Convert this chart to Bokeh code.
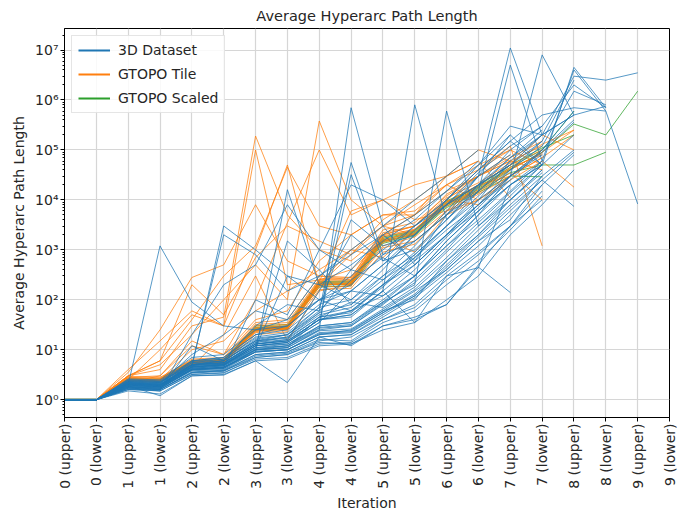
from bokeh.plotting import figure
from bokeh.models import FixedTicker, Range1d, Legend, LegendItem
from bokeh.embed import file_html
from bokeh.resources import INLINE

tick_labels = ["0 (upper)", "0 (lower)", "1 (upper)", "1 (lower)", "2 (upper)", "2 (lower)",
               "3 (upper)", "3 (lower)", "4 (upper)", "4 (lower)", "5 (upper)", "5 (lower)",
               "6 (upper)", "6 (lower)", "7 (upper)", "7 (lower)", "8 (upper)", "8 (lower)",
               "9 (upper)", "9 (lower)"]

dataset_3d = [
    [1, 1, 2, 1.9, 4, 4.5, 9, 10, 20, 25, 60, 150, 400, 1500, 4000, 3e4],
    [1, 1, 1.8, 1.6, 3.5, 3.8, 7, 8, 15, 18, 40, 80, 300, 900, 3e3, 2e4, 8e4],
    [1, 1, 2.2, 2.0, 4.5, 5, 12, 14, 40, 60, 120, 300, 1200, 5e3, 2e4, 6e4],
    [1, 1, 1.6, 1.5, 3.2, 3.5, 6.5, 7, 13, 14, 35, 60, 200, 600, 2500, 1.2e4],
    [1, 1, 2.5, 2.3, 5, 6, 15, 18, 50, 70, 200, 600, 2e3, 8e3, 3e4, 1e5, 4e5],
    [1, 1, 1.9, 1.2, 3, 3.2, 6, 2.2, 18, 12, 30, 45, 80, 450, 140],
    [1, 1, 2, 1200, 90, 30, 25, 40, 100, 300, 1000, 3000, 8000, 2e4, 5e4],
    [1, 1, 2.3, 2.1, 6, 7, 20, 25, 80, 150, 500, 1500, 5e3, 2e4, 1e5, 3e5, 2e6, 7e5],
    [1, 1, 1.7, 1.7, 4, 4.2, 10, 11, 25, 7e5, 3e3, 500, 2e3, 6e3, 2e4, 5e4],
    [1, 1, 2, 2, 4.2, 4.8, 11, 12, 30, 35, 90, 200, 6e5, 3e3, 1e4, 4e4],
    [1, 1, 2.1, 1.9, 5, 5.5, 13, 15, 40, 50, 150, 8e5, 4e3, 2e4, 5e4, 1.5e5],
    [1, 1, 1.8, 1.7, 3.8, 4, 9, 1.6e4, 200, 100, 300, 800, 3e3, 1e4, 3e4, 8e4],
    [1, 1, 2.4, 2.2, 5.5, 6, 16, 20, 60, 5.6e4, 800, 1500, 5e3, 1.5e4, 5e4, 2e5, 3e6, 2.5e6, 3.5e6],
    [1, 1, 2, 1.8, 4.5, 5, 12, 14, 35, 3.2e4, 600, 2500, 8e3, 3e4, 1.1e7, 2e5, 5e5, 7.5e5],
    [1, 1, 2.2, 2.1, 5, 5.5, 14, 16, 45, 60, 180, 700, 3e3, 1.5e4, 5e6, 6e4, 4e6, 6e5, 8.3e3],
    [1, 1, 1.9, 1.8, 4, 4.4, 10, 12, 25, 30, 80, 250, 1e3, 5e3, 3e4, 8e6, 5e5],
    [1, 1, 2, 1.9, 4.8, 5.2, 13, 15, 40, 45, 150, 500, 2e3, 8e3, 4e4, 1.5e5, 2.5e6],
    [1, 1, 1.7, 1.6, 3.6, 3.9, 8, 9, 18, 20, 50, 120, 400, 1500, 6e3, 2.5e4, 7.4e3],
    [1, 1, 2.1, 2, 5, 5.5, 14, 18, 55, 80, 300, 1200, 6e3, 3e4, 2e5, 5e4, 4.5e6, 7e5],
    [1, 1, 2.3, 2.2, 5.2, 6, 15, 20, 70, 100, 400, 2e3, 1e4, 5e4, 3e5, 2e5],
    [1, 1, 1.8, 1.7, 4, 4.5, 9, 10, 22, 24, 60, 100, 600, 2000, 1e4, 4e4],
    [1, 1, 2, 1.9, 4.4, 5, 11, 13, 28, 32, 90, 300, 1500, 6e3, 2.5e4, 1e5, 6e5],
    [1, 1, 1.6, 1.6, 3.4, 3.7, 7.5, 8.5, 16, 15, 40, 70, 250, 800, 3e3, 1.5e4],
    [1, 1, 2.5, 2.4, 6, 7, 20, 30, 100, 200, 800, 3e3, 1e4, 4e4, 1.5e5, 5e5, 7e5, 6e5],
    [1, 1, 2.2, 2, 5, 5.5, 13, 15, 40, 50, 150, 35, 300, 440, 2e4, 5e4],
    [1, 1, 1.9, 1.8, 4.2, 4.8, 10, 11, 45, 90, 70, 180, 700, 3e3, 1.2e4, 5e4, 2e5],
    [1, 1, 2, 1.9, 4.6, 5, 12, 13, 30, 35, 100, 300, 1200, 4e3, 1.5e4, 6e4],
    [1, 1, 2.1, 2, 5, 6, 15, 17, 45, 55, 200, 800, 3e3, 1.2e4, 4e4, 1.2e5, 1.5e6, 8e5],
    [1, 1, 1.8, 1.7, 3.9, 4.2, 9, 10, 20, 22, 55, 130, 500, 2e3, 8e3, 3e4, 1e5],
    [1, 1, 2.3, 2.2, 5.5, 6.5, 18, 22, 70, 4e3, 1200, 2e3, 8e3, 3.5e4, 1.2e5, 3e5],
    [1, 1, 2, 1.9, 4.5, 5, 11, 300, 100, 60, 200, 500, 2e3, 1e4, 6e4],
    [1, 1, 2.6, 2.5, 7, 8, 25, 30, 100, 150, 500, 2e3, 8e3, 2e4, 7e4, 2e5, 5e5],
    [1, 1, 1.7, 1.6, 3.5, 3.8, 8, 9, 18, 20, 45, 110, 350, 1200, 5e3, 2e4],
    [1, 1, 2.2, 2, 4.8, 5.2, 12, 14, 35, 150, 120, 400, 1800, 7e3, 3e4, 9e4, 3.6e5],
    [1, 1, 1.9, 1.8, 4.1, 4.5, 10, 11, 24, 26, 65, 160, 600, 2500, 1e4, 3.5e4],
    [1, 1, 2, 1.9, 4.6, 5.1, 12, 1.5e3, 400, 80, 250, 700, 2.5e3, 8e3, 2.5e4],
    [1, 1, 2.1, 2, 4.9, 5.4, 13, 16, 150, 2e3, 600, 1e3, 4e3, 1.5e4, 6e4, 2e5],
    [1, 1, 1.8, 1.8, 4, 4.3, 9.5, 10, 21, 23, 55, 120, 450, 1800, 7e3, 2.5e4, 9e4],
    [1, 1, 2.4, 2.3, 5.8, 6.5, 17, 20, 55, 400, 250, 900, 4e3, 1.8e4, 7e4, 2.5e5],
    [1, 1, 2, 1.9, 4.3, 4.7, 10.5, 12, 27, 30, 85, 220, 900, 3.5e3, 1.4e4, 5e4],
    [1, 1, 2, 1.9, 4.5, 3e3, 1e3, 300, 200, 500, 1500, 4e3, 1.5e4, 5e4, 2e5],
    [1, 1, 2.1, 2, 5, 2e3, 800, 150, 300, 1e3, 3e3, 1e4, 3e4, 1e5],
    [1, 1, 1.7, 1.5, 20, 200, 500, 8e3, 1e3, 400, 2e3, 5e3, 1.5e4, 6e4],
    [1, 1, 1.9, 1.7, 4, 4.4, 100, 50, 1e3, 2e4, 1e4, 3e3, 1e4, 4e4, 1.5e5, 5e4],
    [1, 1, 1.6, 1.5, 3.2, 3.4, 7, 8, 14, 13, 30, 40, 80, 500, 3e3, 1e4],
    [1, 1, 1.5, 1.3, 3, 3.1, 6, 6.5, 12, 13, 25, 35, 100, 300, 2e3, 8e3, 4e4],
    [1, 1, 2.2, 2.1, 8, 20, 60, 40, 300, 800, 2e3, 600, 5e3, 3e4, 8e4],
    [1, 1, 1.8, 1.6, 12, 6, 30, 80, 60, 250, 700, 300, 1.5e3, 6e3, 2e4],
]

gtopo_tile = [
    [1, 1, 2.5, 2.4, 5.5, 5.8, 25, 28, 200, 210, 1500, 2000, 8e3, 1.5e4, 4e4, 9e4, 2.5e5],
    [1, 1, 2.6, 2.5, 5.8, 6, 28, 30, 220, 230, 1800, 2500, 9e3, 2e4, 5e4, 1e5],
    [1, 1, 2.4, 2.3, 5.2, 5.5, 22, 25, 180, 190, 1100, 1500, 5e3, 1e4, 3e4, 7e4, 2e5],
    [1, 1, 2.7, 2.6, 6, 6.3, 30, 32, 250, 260, 2000, 3000, 1.3e4, 3e4, 6e4, 1.2e5],
    [1, 1, 2.5, 2.5, 5.6, 5.9, 26, 27, 210, 200, 1600, 2200, 8.5e3, 1.6e4, 4.5e4, 8e4],
    [1, 1, 2.3, 2.2, 5, 5.3, 20, 23, 160, 170, 900, 1300, 6e3, 1e4, 2.5e4, 6e4, 1.8e4],
    [1, 1, 2.8, 2.7, 6.5, 7, 35, 40, 300, 280, 2500, 3500, 1.2e4, 3e4, 7e4, 1.5e5],
    [1, 1, 2.6, 2.4, 5.4, 5.7, 24, 26, 190, 220, 1400, 2100, 7.5e3, 1.4e4, 3.5e4, 1e4],
    [1, 1, 3, 4, 30, 45, 1.9e5, 5e3, 1e3, 600, 2e3, 5e3, 2e4, 5e4, 1e5],
    [1, 1, 3.5, 25, 280, 500, 8e3, 600, 300, 250, 2e3, 3e3, 1e4, 3e4, 8e4],
    [1, 1, 4, 15, 60, 30, 1e3, 5e4, 200, 800, 3e3, 2e3, 1e4, 4e4, 1e5, 5e4],
    [1, 1, 3, 5, 20, 100, 500, 100, 3.8e5, 1e4, 3e3, 5e3, 1.5e4, 3e4, 6e4],
    [1, 1, 2.8, 3, 15, 8, 100, 3.5e3, 1e5, 5e3, 1e4, 2e4, 3e4, 6e4],
    [1, 1, 2.5, 10, 50, 30, 1e5, 200, 250, 400, 1500, 2500, 8e3, 2e4, 5e4],
    [1, 1, 3, 6, 40, 300, 1200, 4.5e4, 3e3, 2e3, 5e3, 6e3, 2e4, 4e4, 1.2e5, 1.2e3],
    [1, 1, 2, 2.5, 10, 15, 60, 150, 400, 1e3, 3e3, 8e3, 2e4, 1e4],
    [1, 1, 2.2, 3, 12, 8, 40, 60, 600, 2e3, 5e3, 5e3, 3e4, 6e4, 1.1e4],
    [1, 1, 2.6, 2.5, 5.7, 6, 27, 29, 230, 6e3, 1e4, 4e3, 6e3, 2e4, 5e4, 2e5, 1e5],
    [1, 1, 2.4, 2.4, 5.3, 5.6, 24, 26, 210, 1e3, 700, 2500, 1e4, 8e3, 3e4, 1e5],
    [1, 1, 2.5, 2.3, 5.5, 5.8, 25, 30, 200, 215, 1700, 900, 5e3, 2e4, 3e4],
    [1, 1, 3, 6, 200, 50, 700, 3000, 1500, 800, 4e3, 1e4, 3e4, 1e5, 6e4, 4e4],
    [1, 1, 2.3, 2.5, 4.5, 20, 300, 15, 150, 200, 1200, 1800, 6e3, 1.3e4, 3e4, 7e4],
    [1, 1, 2.9, 2.8, 6.2, 6.6, 32, 35, 260, 280, 2200, 3000, 1.1e4, 2.2e4, 5.5e4, 1.3e5, 2.5e5],
    [1, 1, 2.4, 2.6, 5.9, 6.1, 23, 27, 240, 240, 1900, 2600, 9e3, 1.8e4, 4.2e4, 8.5e4],
]

gtopo_scaled = [
    [1, 1, 2.5, 2.4, 5.6, 5.9, 26, 28, 200, 210, 1500, 2100, 8e3, 1.6e4, 4e4, 9e4, 3.3e5, 2e5, 1.5e6],
    [1, 1, 2.5, 2.4, 5.5, 5.8, 25, 27, 195, 205, 1450, 2000, 7.5e3, 1.5e4, 3.5e4, 5e4, 5e4, 9e4],
    [1, 1, 2.6, 2.5, 5.8, 6.1, 28, 30, 220, 230, 1700, 2300, 9e3, 1.8e4, 4.5e4, 1e5, 6e5],
    [1, 1, 2.4, 2.3, 5.3, 5.6, 24, 26, 180, 190, 1350, 1900, 7e3, 1.4e4, 3e4, 2.9e4],
    [1, 1, 2.5, 2.5, 5.7, 6, 27, 29, 210, 220, 1600, 2200, 8.5e3, 1.7e4, 4.2e4],
    [1, 1, 2.6, 2.6, 6, 6.3, 30, 32, 230, 240, 1800, 2400, 9.5e3, 1.9e4, 5e4, 1.1e5, 2e5],
]

FONT = "DejaVu Sans"
TEXT = "#262626"

p = figure(width=684, height=513, y_axis_type="log",
           x_range=Range1d(0, 19), y_range=Range1d(0.44, 2.7e7),
           title="Average Hyperarc Path Length",
           output_backend="svg", toolbar_location=None,
           min_border_left=64, min_border_right=15, min_border_top=26, min_border_bottom=94)

series = [("GTOPO Scaled", gtopo_scaled, "#2ca02c"),
          ("GTOPO Tile", gtopo_tile, "#ff7f0e"),
          ("3D Dataset", dataset_3d, "#1f77b4")]
legend_r = {}
for label, data, color in series:
    for vals in data:
        p.line(list(range(len(vals))), vals, line_color=color, line_alpha=0.75, line_width=1)
    # shared starting segment (iterations 0 upper/lower), drawn solid; also used as legend glyph
    legend_r[label] = p.line([0, 1], data[0][:2], line_color=color, line_alpha=1, line_width=2)

items = [LegendItem(label=l, renderers=[legend_r[l]]) for l in ["3D Dataset", "GTOPO Tile", "GTOPO Scaled"]]
legend = Legend(items=items, location="top_left")
legend.label_text_font = FONT
legend.label_text_font_size = "14px"
legend.label_text_color = TEXT
legend.border_line_color = "#cccccc"
legend.border_line_width = 1
legend.background_fill_alpha = 0.85
legend.glyph_width = 32
legend.glyph_height = 14
legend.label_height = 14
legend.label_standoff = 8
legend.spacing = 8
legend.padding = 6
legend.margin = 7
p.add_layout(legend)

p.title.align = "center"
p.title.text_font = FONT
p.title.text_font_size = "14.5px"
p.title.text_font_style = "normal"
p.title.text_color = TEXT

p.xaxis.ticker = FixedTicker(ticks=list(range(20)))
p.xaxis.major_label_overrides = {i: t for i, t in enumerate(tick_labels)}
p.xaxis.major_label_orientation = 1.5708
p.xaxis.axis_label = "Iteration"
p.yaxis.axis_label = "Average Hyperarc Path Length"

sup = {0: "\u2070", 1: "\u00b9", 2: "\u00b2", 3: "\u00b3", 4: "\u2074",
       5: "\u2075", 6: "\u2076", 7: "\u2077"}
yt = [10 ** k for k in range(8)]
minor = [m * 10 ** k for k in range(-1, 8) for m in range(2, 10)]
p.yaxis.ticker = FixedTicker(ticks=yt, minor_ticks=minor)
p.yaxis.major_label_overrides = {10 ** k: "10" + sup[k] for k in range(8)}

for ax in (p.xaxis[0], p.yaxis[0]):
    ax.major_label_text_font = FONT
    ax.major_label_text_font_size = "14px"
    ax.major_label_text_color = TEXT
    ax.axis_label_text_font = FONT
    ax.axis_label_text_font_size = "14px"
    ax.axis_label_text_font_style = "normal"
    ax.axis_label_text_color = TEXT
    ax.axis_line_color = "black"
    ax.major_tick_line_color = "black"
    ax.minor_tick_line_color = "black"
    ax.major_tick_in = 0
    ax.major_tick_out = 4
    ax.minor_tick_in = 0
    ax.minor_tick_out = 2
    ax.major_label_standoff = 2
    ax.axis_label_standoff = 3
p.xaxis.minor_tick_out = 0
p.yaxis.axis_label_standoff = 5

p.grid.grid_line_color = "#d6d6d6"
p.grid.grid_line_width = 1.2
p.outline_line_color = "black"
p.outline_line_alpha = 1
p.outline_line_width = 1
p.background_fill_color = "white"
p.border_fill_color = "white"

open("out.html", "w").write(file_html(p, INLINE))
